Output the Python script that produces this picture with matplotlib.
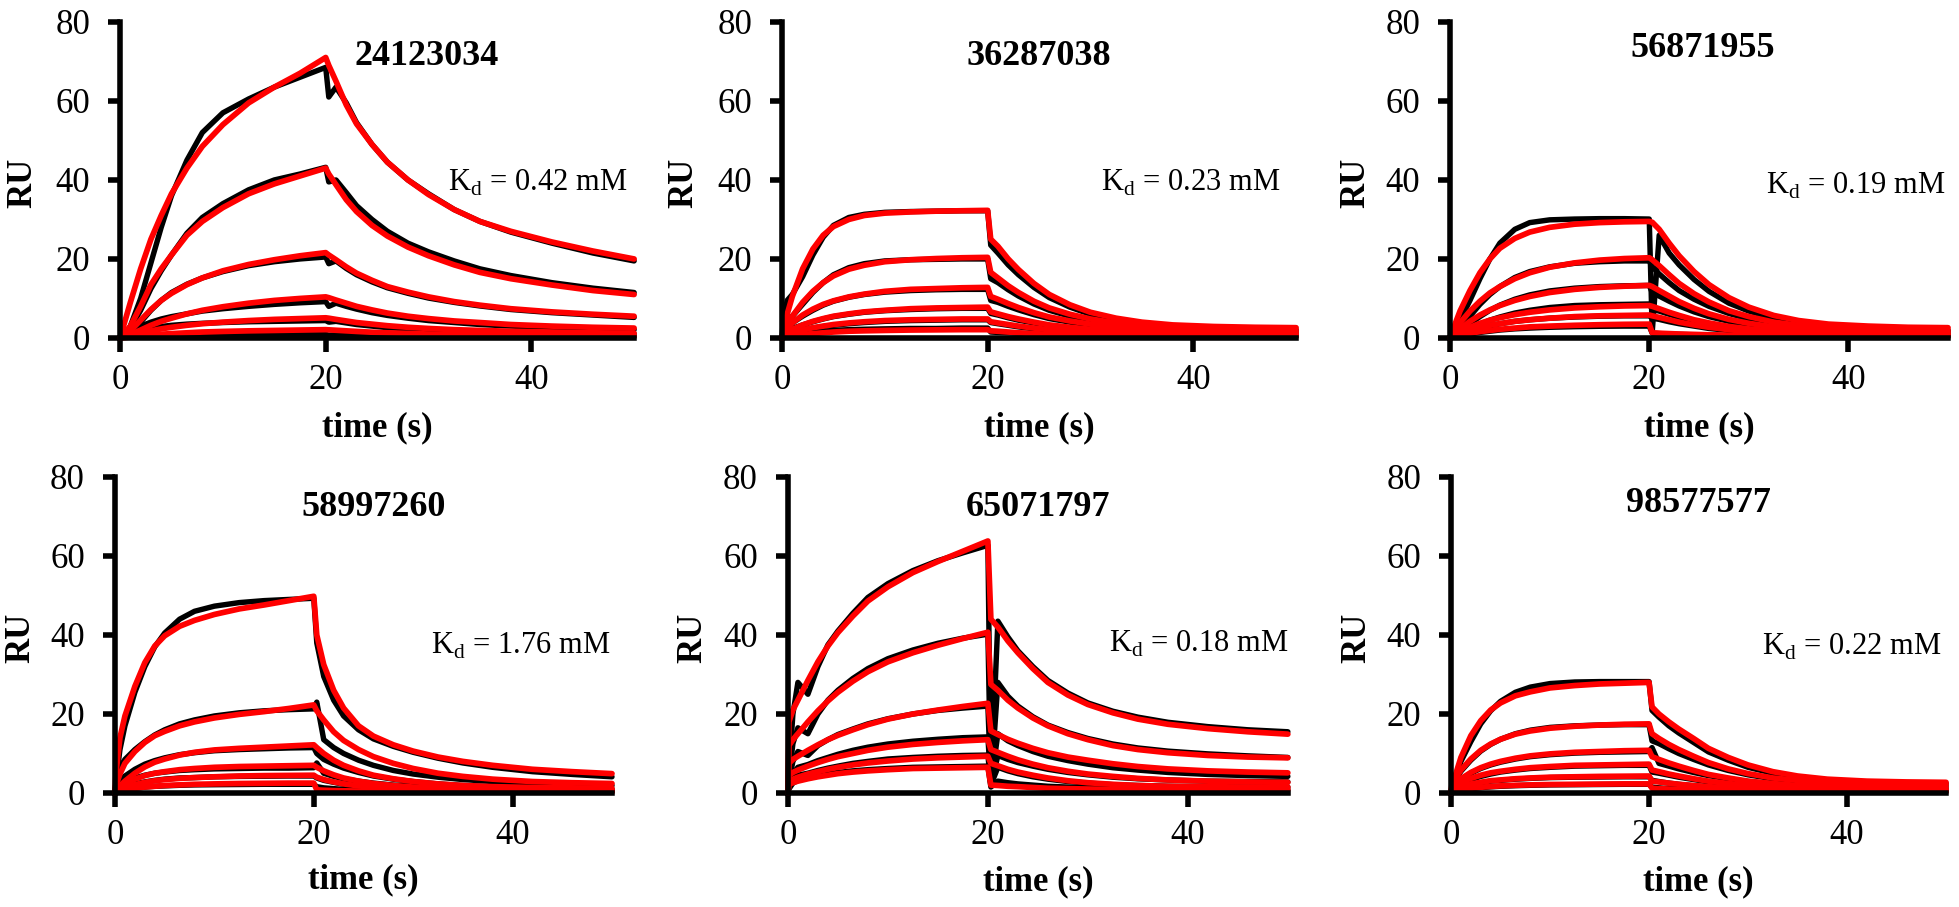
import numpy as np
import matplotlib.pyplot as plt

plt.rcParams['font.family'] = ['Liberation Serif', 'DejaVu Serif']
plt.rcParams['mathtext.fontset'] = 'custom'
plt.rcParams['mathtext.rm'] = 'Liberation Serif'

# time points (s): association phase then dissociation phase
t_assoc = [0, 0.1, 0.5, 1, 2, 3, 4, 5, 6.5, 8, 10, 12.5, 15, 17.5, 20]
t_dissoc = [20.3, 21, 22, 23, 24.5, 26, 28, 30, 32.5, 35, 38, 42, 46, 50]
time = t_assoc + t_dissoc

compounds = ["24123034", "36287038", "56871955", "58997260", "65071797", "98577577"]
kd_labels = ["0.42", "0.23", "0.19", "1.76", "0.18", "0.22"]

# ---- 24123034 ----
p1_fit = [
    [0, 0.9, 4.5, 9, 17.5, 25, 31, 36.5, 43, 48.5, 54, 59.5, 63.5, 67, 71,
     69, 65, 59, 54.2, 49, 44.5, 40, 36.3, 32.5, 29.5, 27, 24.3, 22, 20],
    [0, 0.3, 1.5, 3, 8, 13.5, 17.5, 21, 26, 29.5, 33, 36.5, 39, 41, 43,
     41.5, 38.8, 35, 32, 28.5, 25.8, 23, 20.8, 18.5, 16.6, 15, 13.4, 12, 11],
    [0, 0.15, 0.8, 1.8, 4.5, 7.2, 9.5, 11.3, 13.5, 15.2, 17, 18.6, 19.8, 20.8, 21.6,
     21, 19.8, 18, 16.4, 14.6, 13, 11.6, 10.4, 9.2, 8.3, 7.4, 6.6, 6, 5.5],
    [0, 0.1, 0.4, 0.9, 2, 3.2, 4.2, 5, 6.1, 7, 7.9, 8.8, 9.5, 10, 10.4,
     10.2, 9.6, 8.8, 8, 7.1, 6.3, 5.5, 4.9, 4.3, 3.9, 3.4, 3, 2.7, 2.5],
    [0, 0.05, 0.3, 0.6, 1.2, 1.8, 2.3, 2.7, 3.2, 3.6, 4, 4.4, 4.7, 4.9, 5.1,
     5, 4.7, 4.3, 3.9, 3.5, 3.1, 2.7, 2.4, 2.1, 1.9, 1.7, 1.5, 1.3, 1.2],
    [0, 0.02, 0.1, 0.25, 0.5, 0.75, 0.95, 1.1, 1.3, 1.5, 1.65, 1.8, 1.9, 2, 2.1,
     2.05, 1.95, 1.8, 1.65, 1.45, 1.3, 1.15, 1, 0.9, 0.8, 0.7, 0.6, 0.55, 0.5],
]
p1_exp = [
    [0, 0.2, 1, 3, 10, 19, 28, 36, 45, 52, 57, 60.5, 63.5, 66, 68.5,
     61, 63.5, 59.5, 54.5, 49, 44.5, 40, 36.5, 32.5, 29.5, 26.8, 24, 21.5, 19.5],
    [0, 0.2, 1, 2.5, 7, 12.5, 17, 21, 26.5, 30.5, 34, 37.5, 40, 41.5, 43.2,
     39.5, 40, 36.8, 33.5, 30, 27, 24, 21.8, 19.5, 17.5, 15.8, 14, 12.6, 11.5],
    [0, 0.1, 0.5, 1.5, 4, 7, 9.5, 11.5, 13.6, 15.2, 16.8, 18.3, 19.3, 20, 20.5,
     18.8, 19.5, 17.6, 16, 14.2, 12.7, 11.3, 10.1, 9, 8.1, 7.2, 6.4, 5.8, 5.2],
    [0, 0.2, 0.8, 1.8, 3, 4, 4.8, 5.4, 6.1, 6.8, 7.4, 8, 8.5, 8.9, 9.2,
     8, 8.8, 8, 7.3, 6.4, 5.7, 5, 4.4, 3.9, 3.4, 3, 2.6, 2.3, 2.1],
    [0, 0.1, 0.6, 1.3, 2, 2.5, 2.9, 3.2, 3.5, 3.7, 3.9, 4.1, 4.2, 4.3, 4.4,
     4, 4.2, 3.8, 3.4, 3, 2.6, 2.3, 2, 1.8, 1.6, 1.4, 1.2, 1.1, 1],
    [0, 0.05, 0.2, 0.4, 0.55, 0.65, 0.7, 0.75, 0.8, 0.8, 0.85, 0.85, 0.9, 0.9, 0.9,
     0.7, 0.8, 0.7, 0.65, 0.6, 0.55, 0.5, 0.45, 0.4, 0.35, 0.3, 0.3, 0.25, 0.25],
]

# ---- 36287038 ----
p2_fit = [
    [0, 1.5, 6, 10.5, 17.5, 22.5, 26, 28.2, 30, 31, 31.6, 31.9, 32.1, 32.2, 32.3,
     25, 23.2, 20, 17.3, 13.8, 11, 8.4, 6.5, 5, 4, 3.3, 2.9, 2.7, 2.6],
    [0, 1, 3.5, 5.5, 9, 11.8, 14, 15.7, 17.4, 18.4, 19.3, 19.8, 20.1, 20.3, 20.4,
     16.6, 15.2, 13.2, 11.5, 9.3, 7.6, 6, 4.8, 3.8, 3.1, 2.6, 2.2, 2, 1.9],
    [0, 0.8, 2.5, 3.8, 5.8, 7.3, 8.5, 9.4, 10.4, 11.1, 11.8, 12.3, 12.5, 12.7, 12.8,
     10.5, 9.8, 8.7, 7.7, 6.4, 5.3, 4.3, 3.5, 2.8, 2.3, 1.9, 1.6, 1.5, 1.4],
    [0, 0.5, 1.5, 2.2, 3.3, 4.2, 4.9, 5.5, 6.1, 6.6, 7, 7.4, 7.6, 7.7, 7.8,
     6.6, 6.1, 5.4, 4.8, 4, 3.3, 2.7, 2.2, 1.8, 1.5, 1.3, 1.1, 1, 1],
    [0, 0.3, 0.9, 1.3, 2, 2.6, 3, 3.4, 3.8, 4.1, 4.4, 4.6, 4.7, 4.8, 4.8,
     4.1, 3.8, 3.4, 3, 2.5, 2.1, 1.7, 1.4, 1.2, 1, 0.9, 0.8, 0.7, 0.7],
    [0, 0.15, 0.4, 0.6, 0.9, 1.1, 1.3, 1.5, 1.7, 1.8, 1.9, 2, 2.05, 2.1, 2.1,
     1.8, 1.7, 1.5, 1.3, 1.1, 0.9, 0.75, 0.6, 0.5, 0.45, 0.4, 0.35, 0.3, 0.3],
]
p2_exp = [
    [0, 4, 9.5, 11, 15.5, 21, 25.5, 28.5, 30.5, 31.3, 31.8, 32, 32.1, 32.2, 32.2,
     23.5, 21.5, 18.5, 16, 12.8, 10.2, 7.8, 6, 4.7, 3.8, 3.1, 2.6, 2.3, 2.1],
    [0, 1.5, 4, 5.5, 8.5, 11.5, 14, 16, 17.8, 18.8, 19.5, 19.8, 19.9, 20, 20,
     15, 14, 12.2, 10.6, 8.6, 7, 5.5, 4.4, 3.5, 2.9, 2.4, 2, 1.8, 1.7],
    [0, 1, 2.8, 3.8, 5.5, 7, 8.3, 9.3, 10.3, 11, 11.6, 12, 12.2, 12.3, 12.3,
     9.5, 9, 8, 7.1, 5.9, 4.9, 4, 3.3, 2.7, 2.2, 1.8, 1.5, 1.3, 1.2],
    [0, 0.6, 1.8, 2.4, 3.3, 4.1, 4.8, 5.4, 6, 6.5, 6.9, 7.2, 7.4, 7.5, 7.5,
     6.2, 5.8, 5.1, 4.5, 3.8, 3.1, 2.5, 2.1, 1.7, 1.4, 1.2, 1, 0.9, 0.9],
    [0, 0.4, 1, 1.4, 2, 2.5, 2.9, 3.2, 3.6, 3.9, 4.2, 4.4, 4.5, 4.6, 4.6,
     3.9, 3.6, 3.2, 2.8, 2.3, 1.9, 1.5, 1.2, 1, 0.8, 0.7, 0.6, 0.5, 0.5],
    [0, 0.2, 0.5, 0.8, 1.2, 1.5, 1.7, 1.9, 2.1, 2.2, 2.3, 2.4, 2.4, 2.5, 2.5,
     1.5, 1.4, 1.3, 1.2, 1, 0.9, 0.8, 0.7, 0.6, 0.5, 0.5, 0.4, 0.4, 0.4],
]

# ---- 56871955 ----
p3_fit = [
    [0, 0.7, 3.5, 6.8, 12, 16.5, 20, 22.7, 25.2, 26.8, 28, 28.8, 29.2, 29.4, 29.5,
     29.3, 27.5, 24, 20.8, 16.8, 13.5, 10.2, 7.8, 5.7, 4.4, 3.5, 3, 2.7, 2.6],
    [0, 0.4, 2, 3.8, 6.8, 9.3, 11.4, 13, 15, 16.5, 17.9, 19, 19.7, 20.1, 20.3,
     19.8, 18.3, 16, 13.8, 11.2, 9.1, 6.9, 5.4, 4, 3.2, 2.6, 2.2, 2, 1.9],
    [0, 0.25, 1.2, 2.3, 4.2, 5.8, 7.1, 8.2, 9.5, 10.5, 11.5, 12.3, 12.8, 13.1, 13.3,
     13, 12, 10.6, 9.2, 7.5, 6.1, 4.7, 3.7, 2.8, 2.2, 1.8, 1.5, 1.4, 1.3],
    [0, 0.15, 0.8, 1.5, 2.7, 3.7, 4.5, 5.1, 5.9, 6.5, 7.1, 7.6, 7.9, 8.1, 8.2,
     8, 7.4, 6.5, 5.7, 4.6, 3.8, 2.9, 2.3, 1.7, 1.4, 1.1, 1, 0.9, 0.8],
    [0, 0.1, 0.6, 1.1, 1.9, 2.6, 3.2, 3.6, 4.2, 4.6, 5, 5.4, 5.6, 5.7, 5.8,
     5.6, 5.2, 4.6, 4, 3.3, 2.7, 2.1, 1.6, 1.2, 1, 0.8, 0.7, 0.6, 0.6],
    [0, 0.08, 0.4, 0.7, 1.2, 1.6, 1.9, 2.2, 2.5, 2.8, 3, 3.2, 3.35, 3.45, 3.5,
     1.3, 1.2, 1.1, 1, 0.9, 0.8, 0.7, 0.6, 0.5, 0.45, 0.4, 0.35, 0.3, 0.3],
]
p3_exp = [
    [0, 0.4, 2, 4.5, 9.5, 15, 20, 24, 27.5, 29.2, 29.9, 30.1, 30.2, 30.2, 30.1,
     1.5, 26, 21.5, 18.5, 14.8, 11.8, 8.8, 6.8, 5, 3.9, 3, 2.5, 2.2, 2],
    [0, 0.2, 1, 2.5, 5.5, 8.5, 11, 13, 15.3, 16.8, 18, 18.9, 19.3, 19.5, 19.5,
     18, 16.2, 14, 12, 9.8, 8, 6.2, 4.8, 3.6, 2.9, 2.3, 1.9, 1.7, 1.6],
    [0, 0.15, 0.8, 1.8, 3.6, 5.4, 7, 8.3, 9.8, 10.9, 11.9, 12.6, 13, 13.2, 13.3,
     11.5, 10.6, 9.3, 8.1, 6.6, 5.4, 4.2, 3.3, 2.5, 2, 1.6, 1.3, 1.2, 1.1],
    [0, 0.1, 0.5, 1.2, 2.4, 3.5, 4.5, 5.3, 6.3, 7, 7.7, 8.2, 8.4, 8.5, 8.6,
     7.2, 6.8, 6, 5.2, 4.3, 3.5, 2.7, 2.1, 1.6, 1.3, 1, 0.9, 0.8, 0.7],
    [0, 0.08, 0.4, 0.9, 1.7, 2.5, 3.1, 3.6, 4.2, 4.6, 5, 5.3, 5.5, 5.6, 5.6,
     5, 4.7, 4.1, 3.6, 3, 2.4, 1.9, 1.5, 1.1, 0.9, 0.7, 0.6, 0.5, 0.5],
    [0, 0.05, 0.3, 0.6, 1, 1.4, 1.7, 2, 2.3, 2.5, 2.7, 2.85, 2.95, 3, 3,
     1.2, 1.1, 1, 0.9, 0.8, 0.7, 0.6, 0.5, 0.45, 0.4, 0.35, 0.3, 0.3, 0.3],
]

# ---- 58997260 ----
p4_fit = [
    [0, 5, 14, 19.5, 27, 33, 37.2, 39.8, 42.2, 43.7, 45.2, 46.6, 47.6, 48.7, 49.8,
     40, 32.5, 26, 21.5, 17, 14.4, 12.2, 10.6, 9.1, 8, 7, 6, 5.4, 4.9],
    [0, 2, 4.8, 7.5, 10.5, 12.8, 14.5, 15.6, 17, 18, 19, 19.9, 20.6, 21.4, 22.3,
     20.8, 18.5, 15.5, 13.3, 11, 9.2, 7.5, 6.2, 5, 4.2, 3.5, 2.9, 2.6, 2.4],
    [0, 0.6, 1.8, 3, 5, 6.6, 7.8, 8.6, 9.6, 10.3, 10.9, 11.3, 11.6, 11.9, 12.2,
     11.5, 10, 8.3, 7, 5.6, 4.5, 3.6, 2.9, 2.3, 1.9, 1.6, 1.4, 1.3, 1.2],
    [0, 0.5, 1.5, 2.3, 3.5, 4.4, 5, 5.4, 5.9, 6.2, 6.5, 6.7, 6.8, 6.9, 7,
     6.5, 5.6, 4.6, 3.8, 3, 2.4, 1.9, 1.5, 1.2, 1, 0.9, 0.8, 0.7, 0.7],
    [0, 0.3, 0.9, 1.4, 2.1, 2.7, 3.1, 3.4, 3.7, 3.9, 4.1, 4.3, 4.4, 4.45, 4.5,
     4, 3.4, 2.8, 2.3, 1.8, 1.4, 1.1, 0.9, 0.7, 0.6, 0.5, 0.45, 0.4, 0.4],
    [0, 0.2, 0.5, 0.8, 1.2, 1.5, 1.7, 1.9, 2.05, 2.2, 2.3, 2.4, 2.45, 2.5, 2.5,
     0.8, 0.7, 0.6, 0.55, 0.5, 0.45, 0.4, 0.35, 0.3, 0.3, 0.25, 0.25, 0.2, 0.2],
]
p4_exp = [
    [0, 3, 11, 17, 25.5, 32, 37, 40.5, 44, 46, 47.3, 48.2, 48.7, 49, 49.3,
     38, 29.5, 23.5, 19.5, 16, 13.7, 11.8, 10.3, 8.8, 7.6, 6.5, 5.4, 4.7, 4.1],
    [0, 3, 6.5, 8.5, 11, 13, 14.7, 16, 17.5, 18.5, 19.5, 20.3, 20.8, 21.1, 21.3,
     23, 13.5, 11.5, 10, 8.3, 7, 5.7, 4.8, 4, 3.4, 2.9, 2.4, 2.1, 1.9],
    [0, 1.2, 3, 4.3, 6, 7.3, 8.2, 8.9, 9.7, 10.2, 10.7, 11, 11.2, 11.4, 11.5,
     10, 8.5, 7.3, 6.3, 5.2, 4.3, 3.5, 2.9, 2.3, 1.9, 1.6, 1.3, 1.1, 1],
    [0, 0.7, 1.8, 2.8, 3.8, 4.5, 5, 5.3, 5.7, 5.9, 6.1, 6.2, 6.3, 6.3, 6.4,
     7.6, 5, 4.2, 3.6, 3, 2.5, 2, 1.7, 1.4, 1.2, 1, 0.9, 0.8, 0.7],
    [0, 0.4, 1, 1.6, 2.3, 2.8, 3.2, 3.5, 3.8, 3.9, 4.1, 4.2, 4.25, 4.3, 4.3,
     3.8, 3.2, 2.7, 2.2, 1.8, 1.4, 1.1, 0.9, 0.7, 0.6, 0.5, 0.4, 0.4, 0.35],
    [0, 0.2, 0.5, 0.8, 1.2, 1.5, 1.7, 1.8, 1.95, 2.05, 2.1, 2.15, 2.2, 2.2, 2.2,
     1.6, 1.3, 1.1, 0.9, 0.8, 0.7, 0.6, 0.5, 0.45, 0.4, 0.35, 0.3, 0.3, 0.3],
]

# ---- 65071797 ----
p5_fit = [
    [0, 18, 21, 23.5, 28.5, 33.2, 37.2, 40.6, 44.8, 48.6, 52.2, 55.8, 58.6, 61.2, 63.8,
     44, 42, 38.5, 35.5, 31.5, 28, 24.8, 22.4, 20.3, 18.7, 17.4, 16.3, 15.5, 14.9],
    [0, 12, 13.5, 15, 18, 20.8, 23.3, 25.5, 28.3, 30.7, 33.2, 35.5, 37.4, 39.1, 40.7,
     27.5, 26, 23.5, 21.5, 19, 17, 15, 13.5, 12, 11, 10.2, 9.5, 9.1, 8.9],
    [0, 7.5, 8.5, 9.3, 10.8, 12.2, 13.5, 14.6, 16, 17.3, 18.7, 20, 21, 21.9, 22.7,
     15.7, 14.8, 13.6, 12.6, 11.3, 10.2, 9.1, 8.3, 7.4, 6.7, 6.1, 5.6, 5.3, 5.1],
    [0, 4.5, 5.2, 5.8, 6.8, 7.7, 8.5, 9.2, 10, 10.8, 11.6, 12.3, 12.8, 13.2, 13.5,
     11, 10.3, 9.3, 8.4, 7.3, 6.4, 5.5, 4.8, 4.2, 3.7, 3.3, 3, 2.8, 2.7],
    [0, 3, 3.5, 4, 4.8, 5.4, 6, 6.5, 7.1, 7.6, 8.1, 8.6, 8.9, 9.1, 9.3,
     7.5, 6.9, 6, 5.3, 4.5, 3.8, 3.1, 2.6, 2.2, 1.9, 1.7, 1.6, 1.5, 1.5],
    [0, 2.2, 2.6, 3, 3.6, 4.1, 4.5, 4.9, 5.3, 5.6, 5.9, 6.2, 6.3, 6.4, 6.5,
     2, 1.9, 1.7, 1.6, 1.4, 1.2, 1.1, 1, 0.9, 0.85, 0.8, 0.8, 0.8, 0.8],
]
p5_exp = [
    [0, 5, 20, 28, 25, 32, 37.5, 41, 45.5, 49.5, 53, 56.3, 58.8, 60.8, 62.7,
     2, 43.5, 39.5, 36, 32, 28.5, 25.3, 22.8, 20.7, 19.2, 17.9, 16.8, 16, 15.5],
    [0, 4, 12.5, 16.5, 15, 20, 23.5, 26, 29, 31.5, 34, 36.2, 37.9, 39.2, 40.2,
     2, 28, 24.5, 22, 19.3, 17.2, 15.3, 13.8, 12.4, 11.4, 10.6, 9.9, 9.4, 9],
    [0, 3, 8, 10.5, 9.5, 12, 13.5, 14.8, 16.2, 17.5, 18.8, 20, 20.9, 21.5, 22,
     2, 15, 13.2, 12, 10.5, 9.3, 8.2, 7.3, 6.4, 5.8, 5.2, 4.7, 4.4, 4.2],
    [0, 2, 5, 6.5, 7.2, 8.2, 9, 9.8, 10.8, 11.6, 12.4, 13.1, 13.6, 14, 14.2,
     2, 9.5, 8.5, 7.7, 6.8, 6, 5.2, 4.6, 4, 3.6, 3.3, 3, 2.9, 2.8],
    [0, 1.5, 3.5, 4.5, 5, 5.7, 6.3, 6.8, 7.5, 8, 8.6, 9, 9.3, 9.5, 9.6,
     2, 6.5, 5.6, 4.9, 4.1, 3.5, 2.9, 2.5, 2.1, 1.9, 1.7, 1.6, 1.5, 1.5],
    [0, 1, 2.5, 3.2, 3.8, 4.3, 4.8, 5.2, 5.6, 5.9, 6.2, 6.5, 6.6, 6.7, 6.8,
     1.5, 3, 2.6, 2.3, 2, 1.7, 1.5, 1.3, 1.2, 1.1, 1, 1, 0.9, 0.9],
]

# ---- 98577577 ----
p6_fit = [
    [0, 2.5, 5, 9, 14.5, 18.3, 21, 22.8, 24.6, 25.6, 26.6, 27.2, 27.6, 27.8, 28,
     21.8, 20, 18, 16.2, 13.8, 11.3, 9, 7.1, 5.4, 4.3, 3.5, 3, 2.8, 2.7],
    [0, 2, 3.8, 5.8, 8.6, 10.8, 12.4, 13.6, 14.9, 15.7, 16.4, 16.9, 17.2, 17.4, 17.5,
     15, 13.8, 12.3, 11, 9.3, 7.7, 6.1, 4.9, 3.8, 3.2, 2.6, 2.3, 2.2, 2.1],
    [0, 1.5, 2.6, 3.6, 5.2, 6.4, 7.3, 8, 8.8, 9.4, 9.9, 10.3, 10.5, 10.7, 10.8,
     9.2, 8.5, 7.6, 6.8, 5.7, 4.7, 3.8, 3, 2.4, 1.9, 1.6, 1.4, 1.3, 1.3],
    [0, 1.2, 2, 2.7, 3.7, 4.5, 5.1, 5.5, 6, 6.4, 6.7, 7, 7.1, 7.2, 7.3,
     5.8, 5.4, 4.8, 4.3, 3.6, 3, 2.4, 1.9, 1.5, 1.2, 1, 0.9, 0.8, 0.8],
    [0, 0.8, 1.3, 1.7, 2.3, 2.7, 3.1, 3.3, 3.6, 3.8, 4, 4.1, 4.2, 4.25, 4.3,
     3, 2.8, 2.5, 2.2, 1.9, 1.6, 1.3, 1, 0.8, 0.7, 0.6, 0.5, 0.5, 0.5],
    [0, 0.4, 0.7, 0.9, 1.2, 1.45, 1.65, 1.8, 1.95, 2.05, 2.15, 2.2, 2.25, 2.3, 2.3,
     1.2, 1.1, 1, 0.9, 0.8, 0.7, 0.6, 0.5, 0.4, 0.35, 0.3, 0.3, 0.3, 0.3],
]
p6_exp = [
    [0, 1, 4, 8, 13, 17.5, 20.8, 23.2, 25.5, 26.8, 27.7, 28.1, 28.2, 28.2, 28.2,
     20.9, 19.2, 17, 15.2, 12.8, 10.4, 8.3, 6.5, 5, 4, 3.2, 2.8, 2.5, 2.4],
    [0, 1.5, 3.5, 5.5, 8.3, 10.6, 12.3, 13.6, 15, 15.9, 16.6, 17, 17.2, 17.3, 17.3,
     13.2, 12.5, 11.2, 10, 8.5, 7.1, 5.7, 4.6, 3.6, 3, 2.5, 2.1, 1.9, 1.8],
    [0, 1, 2.3, 3.4, 5, 6.2, 7.1, 7.8, 8.6, 9.2, 9.7, 10.1, 10.3, 10.4, 10.5,
     11.5, 7.5, 6.8, 6.1, 5.2, 4.4, 3.6, 2.9, 2.3, 1.9, 1.6, 1.4, 1.3, 1.2],
    [0, 0.8, 1.7, 2.4, 3.4, 4.2, 4.8, 5.3, 5.8, 6.2, 6.5, 6.8, 6.9, 7, 7,
     5.3, 5, 4.5, 4, 3.4, 2.8, 2.3, 1.8, 1.4, 1.2, 1, 0.9, 0.8, 0.7],
    [0, 0.5, 1.1, 1.5, 2.1, 2.6, 3, 3.2, 3.5, 3.7, 3.9, 4, 4.05, 4.1, 4.1,
     3.2, 2.9, 2.5, 2.2, 1.8, 1.5, 1.2, 1, 0.8, 0.7, 0.6, 0.5, 0.45, 0.45],
    [0, 0.3, 0.6, 0.8, 1.1, 1.35, 1.55, 1.7, 1.85, 1.95, 2.05, 2.1, 2.15, 2.2, 2.2,
     1.5, 1.3, 1.1, 1, 0.9, 0.8, 0.7, 0.6, 0.5, 0.45, 0.4, 0.35, 0.3, 0.3],
]

fit_sets = [p1_fit, p2_fit, p3_fit, p4_fit, p5_fit, p6_fit]
exp_sets = [p1_exp, p2_exp, p3_exp, p4_exp, p5_exp, p6_exp]

# axes boxes [left, bottom, width, height] in figure fraction
boxes = [
    [0.0613, 0.6274, 0.2624, 0.3484],
    [0.3992, 0.6274, 0.2624, 0.3484],
    [0.7402, 0.6274, 0.2542, 0.3484],
    [0.0587, 0.1257, 0.2537, 0.3484],
    [0.4022, 0.1257, 0.2552, 0.3484],
    [0.7407, 0.1257, 0.2527, 0.3484],
]
title_pos = [(0.597, 0.89), (0.50, 0.89), (0.508, 0.915),
             (0.52, 0.905), (0.50, 0.905), (0.50, 0.915)]
kd_pos = [(0.986, 0.49), (0.97, 0.49), (0.994, 0.48),
          (0.996, 0.465), (1.0, 0.472), (0.99, 0.462)]
xlabel_y = [-0.285, -0.285, -0.285, -0.275, -0.28, -0.28]

fig = plt.figure(figsize=(19.59, 9.07), dpi=100)

for i in range(6):
    ax = fig.add_axes(boxes[i])
    for y in exp_sets[i]:
        ax.plot(time, y, color='black', linewidth=3.9, solid_joinstyle='round',
                solid_capstyle='round', clip_on=False)
    for y in fit_sets[i]:
        ax.plot(time, y, color='#FF0000', linewidth=4.1, solid_joinstyle='round',
                solid_capstyle='round', clip_on=False)

    ax.set_xlim(0, 50)
    ax.set_ylim(0, 80)
    ax.set_xticks([0, 20, 40])
    ax.set_yticks([0, 20, 40, 60, 80])
    ax.spines['top'].set_visible(False)
    ax.spines['right'].set_visible(False)
    ax.spines['left'].set_linewidth(4)
    ax.spines['bottom'].set_linewidth(4)
    ax.tick_params(axis='y', direction='out', length=8.6, width=4, labelsize=25, pad=13)
    ax.tick_params(axis='x', direction='out', length=10, width=4, labelsize=25, pad=9)

    ax.set_ylabel('RU', fontsize=25, fontweight='bold')
    ax.yaxis.label.set_va('center')
    ax.yaxis.set_label_coords(-0.19, 0.49)
    ax.set_xlabel('time (s)', fontsize=25, fontweight='bold')
    ax.xaxis.label.set_va('center')
    ax.xaxis.set_label_coords(0.5, xlabel_y[i])

    tx, ty = title_pos[i]
    ax.text(tx, ty, compounds[i], transform=ax.transAxes, ha='center', va='center',
            fontsize=26, fontweight='bold')
    kx, ky = kd_pos[i]
    ax.text(kx, ky, r'K$_\mathrm{d}$ = ' + kd_labels[i] + ' mM', transform=ax.transAxes,
            ha='right', va='center', fontsize=22)

fig.savefig('out.png', dpi=100)
